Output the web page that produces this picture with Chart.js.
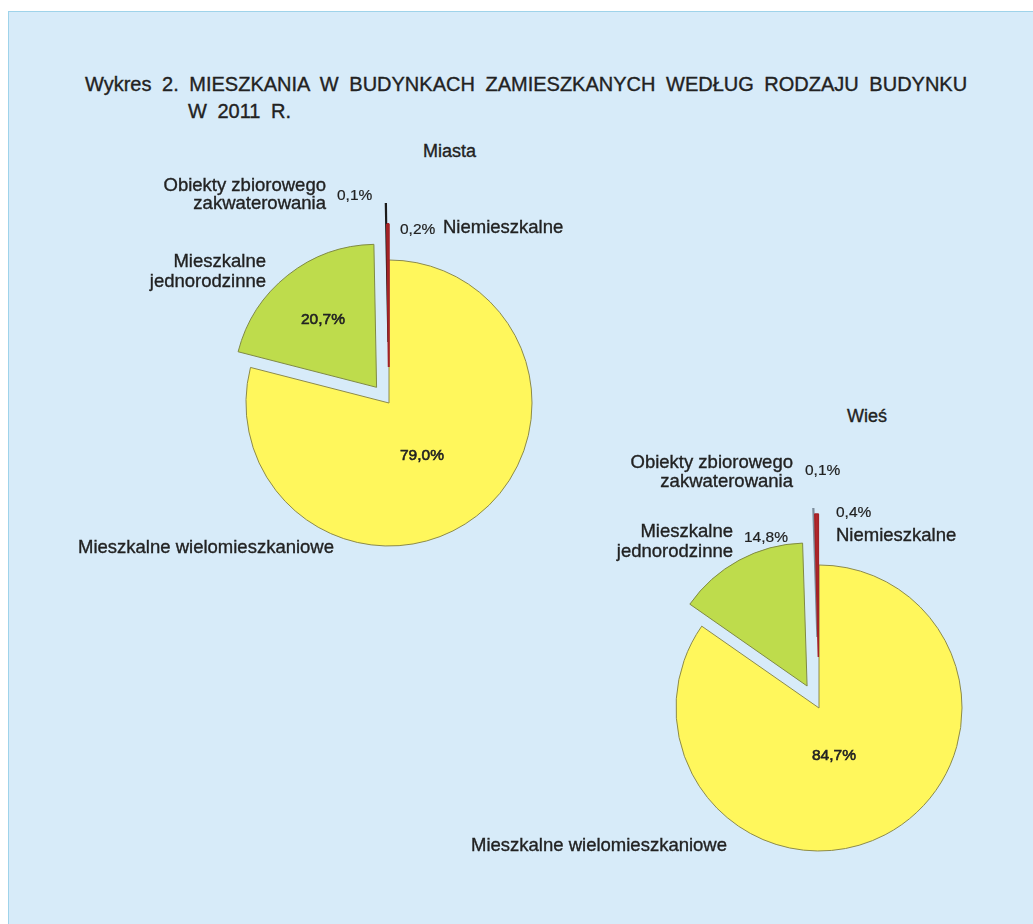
<!DOCTYPE html>
<html>
<head>
<meta charset="utf-8">
<script src="https://cdn.jsdelivr.net/npm/chart.js@4"></script>
<style>
    body { margin: 0; width: 1033px; height: 924px; background: #fff; overflow: hidden;
           font-family: "Liberation Sans", Arial, sans-serif; color: #222; }
    #page { position: absolute; left: 8px; top: 11px; width: 1025px; height: 913px;
            background: #d7ebf9; border-left: 1px solid #9fd3ea; border-top: 1px solid #9fd3ea; }
    .t { position: absolute; white-space: nowrap; line-height: 1; -webkit-text-stroke: 0.35px #222; }
    .lbl { font-size: 18.5px; }
    .pct { font-size: 15.5px; -webkit-text-stroke: 0.2px #222; }
    .in { font-size: 15.5px; -webkit-text-stroke: 0.6px #222; }
    canvas { position: absolute; }
</style>
</head>
<body>
<div id="page"></div>

<div class="t" style="left:85px; top:74px; font-size:20px; word-spacing:5px;">Wykres 2. MIESZKANIA W BUDYNKACH ZAMIESZKANYCH WEDŁUG RODZAJU BUDYNKU</div>
<div class="t" style="left:188px; top:101px; font-size:20px; word-spacing:5px;">W 2011 R.</div>

<canvas id="miasta" width="400" height="400" style="left:189px; top:203px;"></canvas>
<canvas id="wies" width="400" height="400" style="left:619px; top:508px;"></canvas>

<div id="labels"></div>

<script>
const categories = ["Mieszkalne wielomieszkaniowe", "Mieszkalne jednorodzinne", "Obiekty zbiorowego zakwaterowania", "Niemieszkalne"];
const miastaValues = [79.0, 20.7, 0.1, 0.2];
const wiesValues = [84.7, 14.8, 0.1, 0.4];
const chartTitles = ["Miasta", "Wieś"];

// pull slices away from the centre along their mid angle (library offset also grows the radius)
const explode = {
    id: "explode",
    afterDatasetUpdate(chart, args, opts) {
        const dist = opts.distances || [];
        args.meta.data.forEach((arc, i) => {
            const d = dist[i] || 0;
            const mid = (arc.startAngle + arc.endAngle) / 2;
            arc.x += Math.cos(mid) * d;
            arc.y += Math.sin(mid) * d;
        });
    }
};

function makePie(id, values, distances, thinColor, redWidth) {
    return new Chart(document.getElementById(id), {
        type: "pie",
        data: {
            labels: categories,
            datasets: [{
                data: values,
                backgroundColor: ["#fff75c", "#bedc4c", thinColor, "#b3262c"],
                borderColor: ["#8c8a4a", "#7f8a44", thinColor, "#a32226"],
                borderWidth: [1, 1, 1.4, redWidth],
                radius: 143
            }]
        },
        options: {
            responsive: false,
            animation: false,
            events: [],
            layout: { padding: 0 },
            plugins: {
                legend: { display: false },
                tooltip: { enabled: false },
                explode: { distances }
            }
        },
        plugins: [explode]
    });
}

makePie("miasta", miastaValues, [0, 20, 61, 36], "#1c1c1c", 2);
makePie("wies", wiesValues, [0, 25, 71, 51], "#7d8c9b", 1.5);

const pct = v => v.toFixed(1).replace(".", ",") + "%";

// [text, class, left, top, extra style]
const labelSpots = [
    [chartTitles[0], "lbl", 423, 142, "font-size:18px"],
    [chartTitles[1], "lbl", 847, 407, "font-size:18px"],

    ["Obiekty zbiorowego<br>zakwaterowania", "lbl", 126, 176, "width:200px;text-align:right;line-height:18px"],
    [pct(miastaValues[2]), "pct", 337, 187, ""],
    [pct(miastaValues[3]), "pct", 400, 221, ""],
    [categories[3], "lbl", 443, 218, ""],
    ["Mieszkalne<br>jednorodzinne", "lbl", 66, 251, "width:200px;text-align:right;line-height:20px"],
    [pct(miastaValues[1]), "in", 301, 311, ""],
    [pct(miastaValues[0]), "in", 400, 447, ""],
    [categories[0], "lbl", 78, 538, ""],

    ["Obiekty zbiorowego<br>zakwaterowania", "lbl", 593, 452, "width:200px;text-align:right;line-height:19px"],
    [pct(wiesValues[2]), "pct", 805, 462, ""],
    [pct(wiesValues[3]), "pct", 836, 504, ""],
    [categories[3], "lbl", 836, 526, ""],
    ["Mieszkalne<br>jednorodzinne", "lbl", 533, 521, "width:200px;text-align:right;line-height:20px"],
    [pct(wiesValues[1]), "pct", 744, 529, ""],
    [pct(wiesValues[0]), "in", 812, 747, ""],
    [categories[0], "lbl", 471, 836, ""]
];

const holder = document.getElementById("labels");
labelSpots.forEach(s => {
    const div = document.createElement("div");
    div.className = "t " + s[1];
    div.style.cssText = `left:${s[2]}px;top:${s[3]}px;${s[4]}`;
    div.innerHTML = s[0];
    holder.appendChild(div);
});
</script>
</body>
</html>
